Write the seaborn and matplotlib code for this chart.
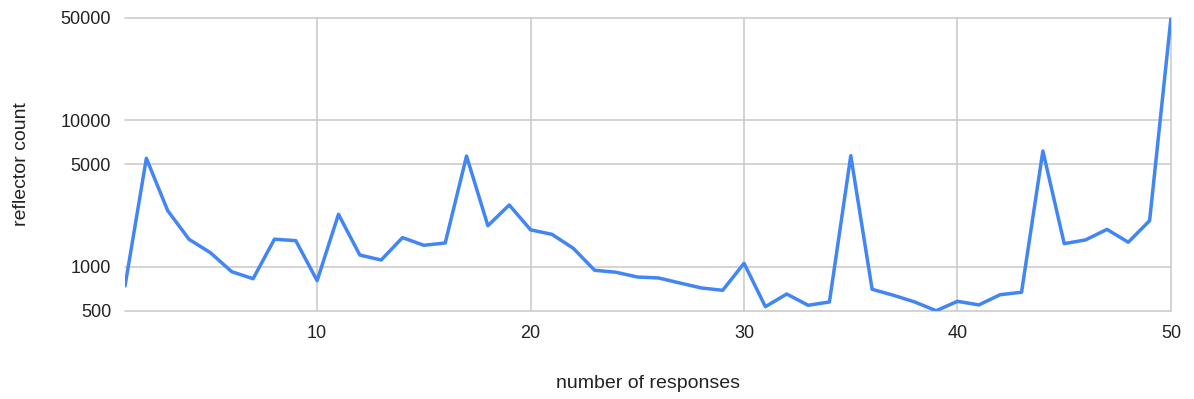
import pandas as pd
import matplotlib.pyplot as plt
import seaborn as sns
from matplotlib.ticker import FixedLocator, NullLocator

# number of responses vs reflector count
responses = list(range(1, 51))
counts = [741, 5510, 2420, 1542, 1250, 927, 830, 1545, 1510, 805,
          2285, 1205, 1114, 1584, 1404, 1456, 5710, 1910, 2646, 1790,
          1668, 1340, 948, 919, 853, 840, 776, 718, 692, 1058,
          535, 653, 547, 576, 5740, 703, 640, 576, 502, 582,
          550, 646, 671, 6180, 1441, 1528, 1803, 1473, 2068, 50000]
y_ticks = [500, 1000, 5000, 10000, 50000]
x_ticks = [10, 20, 30, 40, 50]

df = pd.DataFrame({'responses': responses, 'count': counts})

sns.set_style("whitegrid")
plt.rcParams['font.family'] = ['Liberation Sans', 'DejaVu Sans']

fig = plt.figure(figsize=(11.94, 3.99), dpi=100)
ax = fig.add_axes([0.1047, 0.2206, 0.876, 0.7343])

sns.lineplot(data=df, x='responses', y='count', ax=ax,
             color='#4285F4', linewidth=2.5, zorder=3)

ax.set_yscale('log')
ax.set_ylim(500, 50000)
ax.set_xlim(1, 50)
ax.yaxis.set_major_locator(FixedLocator(y_ticks))
ax.yaxis.set_minor_locator(NullLocator())
ax.set_yticklabels([str(v) for v in y_ticks])
ax.set_xticks(x_ticks)

ax.grid(True, color='#cccccc', linewidth=1.2)
for gl in ax.get_ygridlines() + ax.get_xgridlines():
    gl.set_clip_on(False)
for s in ax.spines.values():
    s.set_visible(False)
ax.tick_params(axis='both', length=0, labelsize=13, labelcolor='#222222')
ax.tick_params(axis='x', pad=10)
ax.tick_params(axis='y', pad=10)

ax.set_xlabel('number of responses', fontsize=14, color='#222222', labelpad=24)
ax.set_ylabel('reflector count', fontsize=14, color='#222222', labelpad=22)

fig.savefig('out.png', dpi=100)
